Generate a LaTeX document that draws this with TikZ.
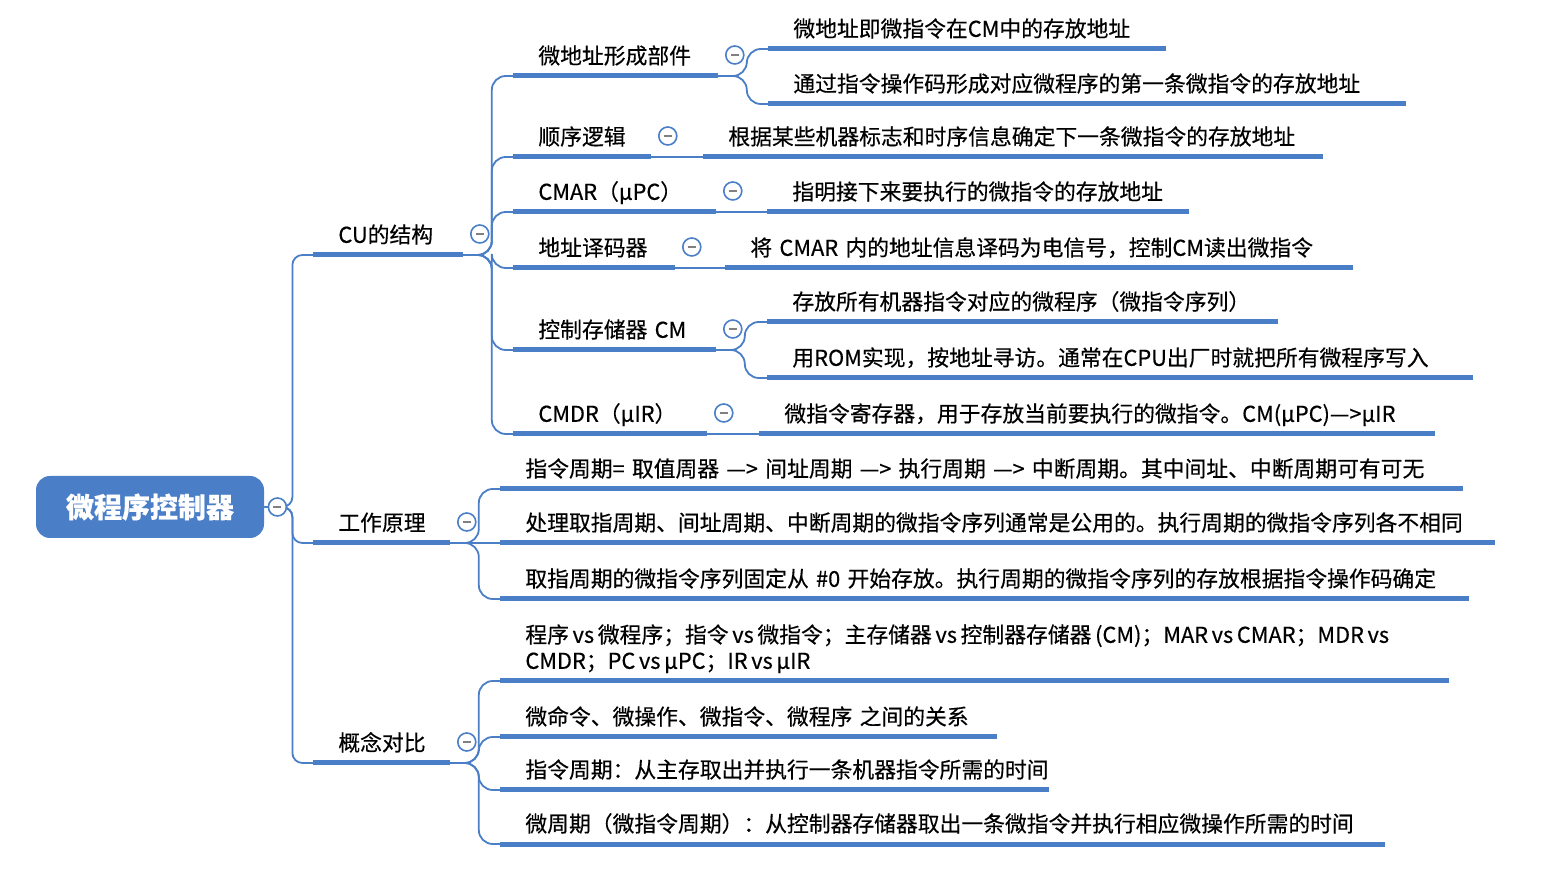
\documentclass[tikz,border=0pt]{standalone}
\usepackage{fontspec}
\setmainfont{Noto Sans CJK SC}[FakeBold=0.4]
\definecolor{mapblue}{RGB}{74,126,199}
\tikzset{
  rootbox/.style={rectangle, rounded corners=7pt, fill=mapblue, text=white,
    minimum width=114pt, minimum height=31pt, font=\fontsize{14}{16}\selectfont\bfseries},
  topic/.style={anchor=south west, inner xsep=12.5pt, inner ysep=3.9pt, text depth=2pt,
    align=left, font=\fontsize{10.9}{13}\selectfont},
  uline/.style={draw=mapblue, line width=2.5pt},
  link/.style={draw=mapblue, line width=0.9pt, rounded corners=7pt},
  trunk/.style={link, rounded corners=5pt},
  toggle/.style={circle, draw=mapblue, fill=white, line width=0.8pt, minimum size=9pt, inner sep=0pt},
}
\begin{document}
\begin{tikzpicture}[x=0.5pt,y=-0.5pt]
\useasboundingbox (0,0) rectangle (1542,870);
% root and main branches
\node[rootbox] (root) at (150,507) {微程序控制器};
\node[topic, text width=49.5pt] (cu) at (313,255) {CU的结构};
\node[topic, text width=43pt] (work) at (313,543) {工作原理};
\node[topic, text width=43pt] (cmp) at (313,763) {概念对比};
% CU parts
\node[topic, text width=77pt] (addr) at (513,76) {微地址形成部件};
\node[topic, text width=43.5pt] (seq) at (513,157) {顺序逻辑};
\node[topic, text width=76pt] (cmar) at (513,212) {CMAR（μPC）};
\node[topic, text width=55.5pt] (dec) at (513,268) {地址译码器};
\node[topic, text width=76pt] (cm) at (513,350) {控制存储器~CM};
\node[topic, text width=71.5pt] (cmdr) at (513,434) {CMDR（μIR）};
% notes on the parts
\node[topic, text width=173.5pt] (a1) at (768,49) {微地址即微指令在CM中的存放地址};
\node[topic, text width=293.5pt] (a2) at (768,104) {通过指令操作码形成对应微程序的第一条微指令的存放地址};
\node[topic, text width=284.5pt] (s1) at (703,157) {根据某些机器标志和时序信息确定下一条微指令的存放地址};
\node[topic, text width=185.5pt] (m1) at (767,212) {指明接下来要执行的微指令的存放地址};
\node[topic, text width=288.5pt] (d1) at (725,268) {将~CMAR~内的地址信息译码为电信号，控制CM读出微指令};
\node[topic, text width=230pt] (c1) at (767,322) {存放所有机器指令对应的微程序（微指令序列）};
\node[topic, text width=327.5pt] (c2) at (767,378) {用ROM实现，按地址寻访。通常在CPU出厂时就把所有微程序写入};
\node[topic, text width=312.5pt] (r1) at (759,434) {微指令寄存器，用于存放当前要执行的微指令。CM(μPC)—>μIR};
% working principle
\node[topic, text width=456pt] (w1) at (500,489) {指令周期=~取值周器~—>~间址周期~—>~执行周期~—>~中断周期。其中间址、中断周期可有可无};
\node[topic, text width=472pt] (w2) at (500,543) {处理取指周期、间址周期、中断周期的微指令序列通常是公用的。执行周期的微指令序列各不相同};
\node[topic, text width=459pt] (w3) at (500,599) {取指周期的微指令序列固定从~\#0~开始存放。执行周期的微指令序列的存放根据指令操作码确定};
% comparisons
\node[topic, text width=449pt, text depth=15pt] (p1) at (500,681) {\mbox{程序\,vs\,微程序；指令\,vs\,微指令；主存储器\,vs\,控制器存储器\,(CM)；MAR\,vs\,CMAR；MDR\,vs}\\\mbox{CMDR；PC\,vs\,μPC；IR\,vs\,μIR}};
\node[topic, text width=223pt] (p2) at (500,737) {微命令、微操作、微指令、微程序~之间的关系};
\node[topic, text width=249pt] (p3) at (500,790) {指令周期：从主存取出并执行一条机器指令所需的时间};
\node[topic, text width=417pt] (p4) at (500,844) {微周期（微指令周期）：从控制器存储器取出一条微指令并执行相应微操作所需的时间};

% connectors
\foreach \n in {cu,work,cmp}
  \draw[trunk] (root.east) -- ++(28,0) |- (\n.south west);
\foreach \n in {addr,seq,cmar,dec,cm,cmdr}
  \draw[link] (cu.south east) -- ++(29,0) |- (\n.south west);
\foreach \n in {a1,a2}
  \draw[link] (addr.south east) -- ++(29,0) |- (\n.south west);
\draw[link] (seq.south east) -- (s1.south west);
\draw[link] (cmar.south east) -- (m1.south west);
\draw[link] (dec.south east) -- (d1.south west);
\foreach \n in {c1,c2}
  \draw[link] (cm.south east) -- ++(29,0) |- (\n.south west);
\draw[link] (cmdr.south east) -- (r1.south west);
\foreach \n in {w1,w3}
  \draw[link] (work.south east) -- ++(29,0) |- (\n.south west);
\draw[link] (work.south east) -- (w2.south west);
\foreach \n in {p1,p2,p3,p4}
  \draw[link] (cmp.south east) -- ++(29,0) |- (\n.south west);

% underlines
\foreach \n in {cu,work,cmp,addr,seq,cmar,dec,cm,cmdr,a1,a2,s1,m1,d1,c1,c2,r1,w1,w2,w3,p1,p2,p3,p4}
  \draw[uline] (\n.south west) -- (\n.south east);

% collapse buttons
\node[toggle] (root-t) at ([shift={(13,0)}]root.east) {\textcolor{gray}{\rule[-0.4pt]{4pt}{0.8pt}}};
\foreach \n in {cu,work,cmp,addr,seq,cmar,dec,cm,cmdr}
  \node[toggle] (\n-t) at ([shift={(17,-21)}]\n.south east) {\textcolor{gray}{\rule[-0.4pt]{4pt}{0.8pt}}};
\end{tikzpicture}
\end{document}
